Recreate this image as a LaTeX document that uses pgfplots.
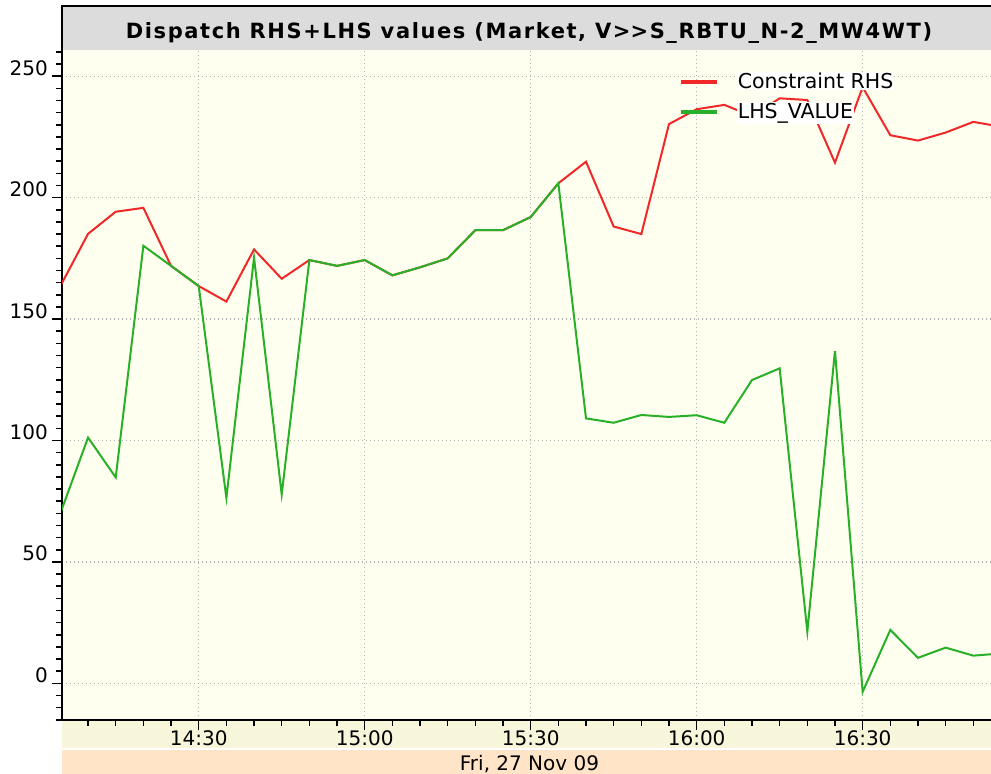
\documentclass[border=0pt]{standalone}
\usepackage{pgfplots}
\pgfplotsset{compat=1.18}
\usepackage{fontspec}
\setmainfont{DejaVu Sans}
\definecolor{redline}{RGB}{240,40,40}
\definecolor{greenline}{RGB}{40,176,40}
\definecolor{plotbg}{RGB}{255,255,240}
\definecolor{titlebg}{RGB}{220,220,220}
\definecolor{tickband}{RGB}{247,245,218}
\definecolor{dateband}{RGB}{255,228,200}
\setlength{\fboxsep}{1pt}
\newcommand{\tickfont}{\fontsize{20}{24}\selectfont}

\pgfplotstableread{
m rhs lhs
5 163.6 70.1
10 185.1 101.2
15 194.2 84.8
20 195.8 180.2
25 171.9 171.9
30 163.6 163.6
35 157.2 76.4
40 178.7 175.3
45 166.6 77.8
50 174.3 174.3
55 171.9 171.9
60 174.3 174.3
65 168.0 168.0
70 171.3 171.3
75 175.0 175.0
80 186.6 186.6
85 186.6 186.6
90 192.0 192.0
95 205.9 205.9
100 214.8 109.1
105 188.1 107.3
110 185.0 110.5
115 230.3 109.7
120 236.4 110.4
125 238.2 107.3
130 233.6 124.9
135 240.9 129.7
140 240.2 21.3
145 214.4 136.9
150 245.5 -3.5
155 225.7 22.0
160 223.5 10.5
165 226.8 14.7
170 231.2 11.4
175 229.2 12.3
}\datatable

\begin{document}
\begin{tikzpicture}
\useasboundingbox (0pt,0pt) rectangle (991pt,774pt);
% title bar
\fill[titlebg] (62pt,724pt) rectangle (995pt,768pt);
\draw[line width=2pt] (995pt,768pt) -- (62pt,768pt) -- (62pt,722pt);
\node[anchor=base, font={\fontsize{21}{25}\selectfont\bfseries\addfontfeature{LetterSpace=7.6}}] at (529pt,735.7pt) {Dispatch RHS+LHS values (Market, V>\kern0pt>S\_RBTU\_N-2\_MW4WT)};
% bands
\fill[tickband] (62pt,26pt) rectangle (995pt,53pt);
\fill[dateband] (62pt,0pt) rectangle (995pt,24pt);
\node[anchor=base, font=\tickfont] at (529.5pt,3pt) {Fri, 27 Nov 09};
\begin{axis}[
  at={(62pt,54pt)}, anchor=south west,
  scale only axis, width=929pt, height=670pt,
  xmin=5.29, xmax=173.2, ymin=-15.1, ymax=260.8,
  axis x line*=bottom, axis y line*=left,
  axis line style={line width=2pt, -, black},
  axis background/.style={fill=plotbg},
  xtick={30,60,90,120,150},
  xticklabels={14:30,15:00,15:30,16:00,16:30},
  minor xtick={10,15,...,170},
  ytick={0,50,...,250},
  minor ytick={-15,-10,...,260},
  tick align=outside,
  major tick length=10pt, minor tick length=6pt,
  every tick/.style={line width=1.5pt, black},
  grid=major,
  major grid style={dash pattern=on 1.3pt off 2.7pt, black!30, line width=1.2pt},
  /pgf/number format/assume math mode=true,
  xticklabel style={font=\tickfont, anchor=base, inner sep=0pt, yshift=-15pt},
  yticklabel style={font=\tickfont, anchor=base east, inner sep=0pt, xshift=-4pt, yshift=1pt},
  legend style={at={(axis cs:116.2,252.6)}, anchor=north west, draw=none, fill=none,
    font={\fontsize{20.5}{24}\selectfont}, row sep=12pt,
    nodes={inner sep=0pt}},
  legend cell align=left,
  legend image code/.code={\draw[line width=4pt] (0pt,-1pt) -- (36pt,-1pt); \path (55pt,-1pt);},
]
\addplot[redline, line width=2pt] table[x=m, y=rhs] {\datatable};
\addlegendentry{\colorbox{white}{Constraint RHS}}
\addplot[greenline, line width=2pt] table[x=m, y=lhs] {\datatable};
\addlegendentry{\colorbox{white}{LHS\_VALUE}}
\end{axis}
\end{tikzpicture}
\end{document}
